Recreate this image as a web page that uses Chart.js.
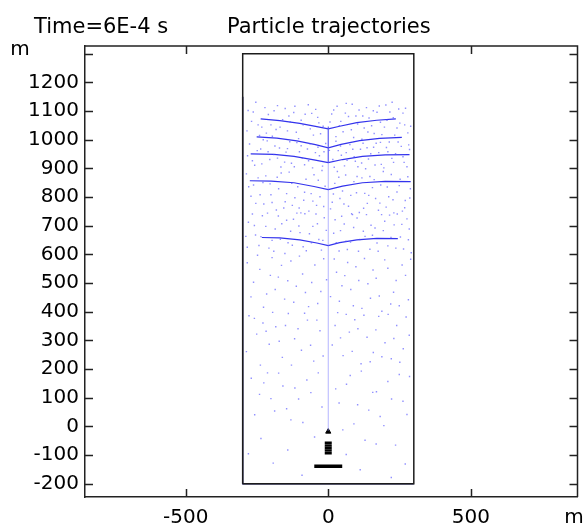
<!DOCTYPE html>
<html>
<head>
<meta charset="utf-8">
<script src="https://cdn.jsdelivr.net/npm/chart.js@4.4.1/dist/chart.umd.min.js"></script>
<style>
  html, body { margin: 0; padding: 0; background: #fff; overflow: hidden; }
  #plot { display: block; }
</style>
</head>
<body>
<canvas id="plot" width="584" height="527"></canvas>
<script>
let TITLE_LEFT = 'Time=6E-4 s';
let TITLE_RIGHT = 'Particle trajectories';
let X_TICKS = [-500, 0, 500];
let Y_TICKS = [-200, -100, 0, 100, 200, 300, 400, 500, 600, 700, 800, 900, 1000, 1100, 1200, 1300];

// domain box (m)
let BOX = [[-300, -200], [-300, 1300], [300, 1300], [300, -200], [-300, -200]];
let BOX_WALLS = [[-300, 1150], [-300, -200], [300, -200]];

// particle front curves
let FRONT_1 = [[-237, 1073], [-170, 1067], [-100, 1057], [-40, 1046], [0, 1038], [40, 1047], [100, 1060], [170, 1068], [237, 1073]];
let FRONT_2 = [[-251, 1010], [-180, 1006], [-110, 996], [-45, 983], [0, 972], [45, 984], [110, 997], [180, 1005], [258, 1008]];
let FRONT_3 = [[-272, 951], [-190, 949], [-120, 942], [-50, 930], [0, 920], [50, 931], [120, 942], [200, 947], [285, 948]];
let FRONT_4 = [[-275, 857], [-200, 856], [-120, 850], [-50, 837], [0, 826], [50, 838], [120, 850], [200, 855], [289, 854]];
let FRONT_5 = [[-233, 659], [-170, 658], [-100, 651], [-40, 640], [0, 631], [40, 641], [100, 651], [170, 656], [244, 655]];
let AXIS_TRAIL = [[0, -15], [0, 1042]];
let CUSP_TRAIL = [[0, 920], [0, 1046]];

// scattered particles
let DOTS_UPPER = [[-281,1102],[-254,1131],[-233,1044],[-210,1088],[-196,1012],[-178,1119],[-160,1070],[-143,1031],[-121,1095],[-104,1004],[-88,1052],[-70,1122],[-52,1016],[-37,1078],[-18,1047],[12,1090],[27,1011],[44,1064],[63,1127],[81,1035],[97,1083],[118,1002],[134,1112],[152,1049],[171,1096],[188,1018],[206,1068],[224,1131],[241,1041],[262,1093],[279,1024],
  [-276,985],[-249,962],[-228,1000],[-205,931],[-187,978],[-166,905],[-148,957],[-129,918],[-110,990],[-91,936],[-73,968],[-55,902],[-31,944],[-9,987],[16,931],[35,962],[57,909],[76,983],[95,925],[113,967],[131,899],[149,951],[168,988],[186,914],[204,973],[223,935],[245,992],[266,921],[285,966],
  [-287,881],[-262,842],[-239,808],[-219,874],[-197,781],[-174,829],[-156,762],[-137,887],[-117,798],[-96,745],[-78,862],[-60,812],[-41,771],[-22,893],[8,759],[23,848],[41,795],[61,877],[82,742],[99,815],[118,867],[137,778],[155,833],[176,754],[193,889],[212,801],[230,745],[252,862],[270,788],[288,829],
  [-280,712],[-255,668],[-231,735],[-208,622],[-186,689],[-163,707],[-141,641],[-122,723],[-99,676],[-77,613],[-54,698],[-33,652],[-14,728],[19,674],[38,612],[56,706],[78,643],[101,727],[123,681],[146,618],[164,692],[187,739],[209,630],[231,703],[253,661],[276,724],[291,606]];
let DOTS_UPPER_2 = [[-269,1064],[-241,1015],[-222,1112],[-201,1052],[-183,1036],[-151,1109],[-133,1062],[-112,1026],[-81,1089],[-63,1038],[-44,1106],[-27,1021],[6,1062],[31,1117],[52,1028],[71,1081],[89,1008],[108,1104],[126,1041],[143,1076],[161,1022],[179,1118],[197,1044],[216,1097],[233,1016],[251,1058],[271,1110],[289,1047],
  [-283,944],[-258,911],[-237,968],[-214,996],[-191,948],[-171,971],[-153,922],[-135,993],[-101,958],[-83,913],[-64,986],[-45,955],[-20,908],[4,963],[27,995],[46,946],[66,928],[86,967],[104,906],[122,988],[141,933],[159,974],[177,955],[195,902],[214,992],[236,951],[256,977],[276,906],
  [-271,803],[-246,867],[-226,776],[-204,846],[-182,755],[-165,884],[-146,812],[-126,771],[-107,836],[-86,789],[-68,751],[-50,878],[-29,801],[-11,838],[14,782],[32,889],[50,821],[71,768],[90,854],[109,746],[128,813],[146,872],[166,795],[184,842],[203,765],[221,879],[241,818],[260,751],[279,871],
  [-289,663],[-266,741],[-243,631],[-219,698],[-197,649],[-175,734],[-152,603],[-132,681],[-110,744],[-88,627],[-66,672],[-43,741],[-24,615],[-7,684],[28,641],[47,733],[67,617],[89,694],[111,652],[134,739],[155,667],[175,611],[198,716],[220,659],[242,741],[264,619],[284,689]];
let DOTS_UPPER_3 = [[-285,1031],[-263,1097],[-246,1052],[-217,1023],[-190,1101],[-169,1044],[-138,1083],[-117,1117],[-95,1068],[-58,1092],[-33,1059],[19,1104],[39,1049],[60,1093],[84,1124],[103,1055],[121,1083],[139,1027],[158,1101],[183,1061],[202,1121],[228,1077],[247,1107],[268,1052],
  [-266,927],[-233,916],[-211,958],[-178,936],[-143,969],[-119,906],[-95,979],[-69,927],[-36,974],[-15,958],[21,904],[43,978],[63,955],[91,941],[117,919],[136,972],[164,912],[183,991],[209,958],[229,921],[262,941],[282,982],
  [-279,836],[-254,778],[-229,851],[-201,808],[-179,869],[-151,784],[-128,848],[-102,762],[-83,817],[-54,786],[-35,859],[-16,767],[18,811],[37,869],[55,776],[79,806],[101,872],[124,761],[142,806],[161,861],[181,779],[207,835],[227,791],[249,840],[268,763],[286,797],
  [-284,625],[-259,701],[-236,662],[-213,744],[-191,611],[-168,653],[-146,719],[-126,632],[-103,699],[-82,742],[-59,641],[-38,707],[-19,649],[24,721],[43,683],[62,646],[85,739],[106,611],[129,663],[150,702],[171,640],[193,683],[215,737],[237,622],[258,705],[281,651]];
let DOTS_MID = [[-284,571],[-262,503],[-240,548],[-216,462],[-197,589],[-175,521],[-153,444],[-131,577],[-112,489],[-90,532],[-69,418],[-47,563],[-26,471],[-6,512],[21,584],[39,437],[58,526],[79,478],[97,557],[118,412],[139,498],[157,546],[179,455],[198,581],[219,427],[238,509],[259,563],[281,442],
  [-278,386],[-251,322],[-229,361],[-207,287],[-184,348],[-161,241],[-140,394],[-118,306],[-94,266],[-73,371],[-51,228],[-29,334],[14,284],[33,397],[52,247],[74,329],[93,372],[115,219],[136,311],[158,258],[177,384],[199,292],[221,236],[240,352],[263,271],[284,318],
  [-271,452],[-248,597],[-227,416],[-203,527],[-186,478],[-164,562],[-142,508],[-121,433],[-101,594],[-80,467],[-58,502],[-37,429],[-16,585],[8,453],[29,538],[48,491],[68,572],[88,421],[107,509],[127,586],[148,447],[168,517],[188,402],[209,552],[229,468],[249,421],[271,527],[289,583],
  [-287,261],[-259,377],[-238,214],[-218,332],[-195,398],[-172,297],[-150,352],[-129,214],[-106,341],[-83,395],[-62,283],[-40,371],[-18,246],[24,352],[43,309],[63,391],[84,262],[104,341],[125,388],[147,226],[167,337],[188,243],[210,391],[230,307],[251,224],[273,382]];
let DOTS_LOW = [[-270,168],[-241,112],[-213,187],[-188,54],[-159,141],[-131,23],[-104,96],[-75,162],[-48,-37],[-22,68],[26,131],[51,-12],[77,178],[103,76],[129,-48],[156,119],[182,35],[209,157],[236,-65],[262,88],[285,174],
  [-280,-95],[-236,-42],[-193,-128],[-142,-82],[-92,-170],[63,-98],[112,-151],[168,-61],[221,-178],[270,-131],
  [-258,41],[-226,152],[-201,97],[-174,186],[-146,62],[-117,134],[-89,14],[-61,118],[-35,187],[38,82],[64,147],[90,9],[116,193],[142,57],[169,121],[195,3],[222,96],[249,181],[276,42]];

// black release markers near the bottom
let RELEASE_TIP = [[0, -18]];
let RELEASE_STACK = [[0, -57], [0, -66], [0, -75], [0, -84], [0, -93]];
let RELEASE_BAR = [[-49, -139], [49, -139]];

function toXY(pairs) {
	return pairs.map((p) => ({ x: p[0], y: p[1] }));
}

function lineSet(pairs, color, width) {
	return {
		data: toXY(pairs),
		showLine: true,
		borderColor: color,
		borderWidth: width,
		pointRadius: 0,
		tension: 0,
		fill: false,
	};
}

function dotSet(pairs) {
	return {
		data: toXY(pairs),
		showLine: false,
		pointStyle: 'rect',
		pointRadius: 1,
		pointBorderWidth: 0,
		backgroundColor: 'rgba(85, 85, 255, 0.65)',
	};
}

let FONT = '"DejaVu Sans", sans-serif';
let TICK_LEN = 8;

let framePlugin = {
	id: 'frame',
	afterDraw(chart) {
		let c = chart.ctx;
		let a = chart.chartArea;
		let xs = chart.scales.x;
		let ys = chart.scales.y;
		c.save();
		c.strokeStyle = '#222';
		c.lineWidth = 1.5;
		c.beginPath();
		c.moveTo(a.left, a.top);
		c.lineTo(a.right, a.top);
		c.lineTo(a.right, a.bottom);
		c.stroke();
		c.beginPath();
		X_TICKS.forEach((v) => {
			let px = Math.round(xs.getPixelForValue(v)) + 0.5;
			c.moveTo(px, a.bottom);
			c.lineTo(px, a.bottom - TICK_LEN);
			c.moveTo(px, a.top);
			c.lineTo(px, a.top + TICK_LEN);
		});
		Y_TICKS.forEach((v) => {
			let py = Math.round(ys.getPixelForValue(v)) + 0.5;
			c.moveTo(a.left, py);
			c.lineTo(a.left + TICK_LEN, py);
			c.moveTo(a.right, py);
			c.lineTo(a.right - TICK_LEN, py);
		});
		c.stroke();

		c.fillStyle = '#000';
		c.font = '21px ' + FONT;
		c.textBaseline = 'alphabetic';
		c.textAlign = 'left';
		c.fillText(TITLE_LEFT, 34, 33);
		c.fillText(TITLE_RIGHT, 227, 33);
		c.font = '20px ' + FONT;
		c.textAlign = 'center';
		c.fillText('m', 20, 55);
		c.fillText('m', 574, 523);
		c.restore();
	},
};

var ctx = document.getElementById('plot').getContext('2d');
var plot = new Chart(ctx, {
	type: 'scatter',
	plugins: [framePlugin],
	options: {
		animation: false,
		responsive: false,
		layout: { padding: { top: 46, right: 1, left: 0, bottom: 0 } },
		plugins: { legend: { display: false }, tooltip: { enabled: false } },
		scales: {
			x: {
				type: 'linear',
				min: -853,
				max: 874,
				afterBuildTicks: (s) => { s.ticks = X_TICKS.map((v) => ({ value: v })); },
				afterFit: (s) => { s.height = 30; },
				grid: { display: false, drawTicks: false },
				border: { display: true, color: '#222', width: 1.5 },
				ticks: { color: '#000', font: { family: FONT, size: 20 }, padding: 9, maxRotation: 0 },
			},
			y: {
				type: 'linear',
				min: -246,
				max: 1327,
				afterBuildTicks: (s) => { s.ticks = Y_TICKS.map((v) => ({ value: v })); },
				afterFit: (s) => { s.width = 85; },
				grid: { display: false, drawTicks: false },
				border: { display: true, color: '#222', width: 1.5 },
				ticks: {
					color: '#000',
					font: { family: FONT, size: 20 },
					padding: 6,
					callback: (v) => (v === 1300 ? '' : v),
				},
			},
		},
	},
	data: {
		datasets: [
			dotSet(DOTS_UPPER),
			dotSet(DOTS_UPPER_2),
			dotSet(DOTS_UPPER_3),
			dotSet(DOTS_MID),
			dotSet(DOTS_LOW),
			lineSet(AXIS_TRAIL, 'rgba(120, 120, 255, 0.55)', 1),
			lineSet(CUSP_TRAIL, 'rgba(50, 50, 230, 0.9)', 1),
			lineSet(FRONT_1, 'rgba(40, 40, 235, 0.95)', 1.2),
			lineSet(FRONT_2, 'rgba(40, 40, 235, 0.95)', 1.2),
			lineSet(FRONT_3, 'rgba(40, 40, 235, 0.95)', 1.2),
			lineSet(FRONT_4, 'rgba(40, 40, 235, 0.95)', 1.2),
			lineSet(FRONT_5, 'rgba(40, 40, 235, 0.95)', 1.2),
			lineSet(BOX, '#1c1c1c', 1.5),
			lineSet(BOX_WALLS, '#1e1e70', 1.5),
			lineSet(RELEASE_BAR, '#000', 3.5),
			{
				data: toXY(RELEASE_STACK),
				pointStyle: 'line',
				pointRadius: 3.5,
				pointBorderWidth: 2.5,
				borderColor: '#000',
			},
			{
				data: toXY(RELEASE_TIP),
				pointStyle: 'triangle',
				pointRadius: 3,
				pointBorderWidth: 1,
				borderColor: '#000',
				backgroundColor: '#000',
			},
		],
	},
});
</script>
</body>
</html>
